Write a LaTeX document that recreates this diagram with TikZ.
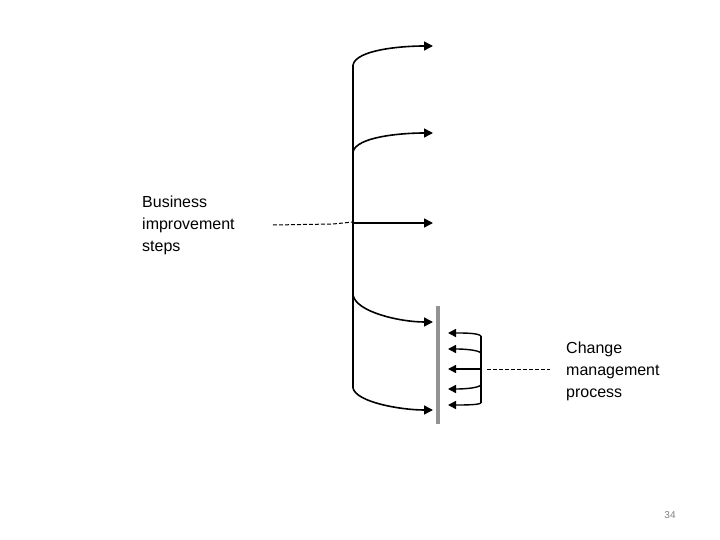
\documentclass[tikz,border=0pt]{standalone}
\usepackage{fontspec}
\setmainfont{Liberation Sans}
\usetikzlibrary{arrows.meta}
\begin{document}
\begin{tikzpicture}[x=1pt,y=-1pt,
  arr/.style={line width=1.6pt,-{Triangle[length=9pt,width=9pt]}},
  sarr/.style={line width=1.4pt,-{Triangle[length=8pt,width=8pt]}},
  dashln/.style={line width=1pt,dash pattern=on 4pt off 2pt},
  lbl/.style={align=left,anchor=north west,inner sep=0pt,font=\fontsize{16}{22}\selectfont}]
\useasboundingbox (0,0) rectangle (720,540);
\coordinate (t1) at (353,65); \coordinate (t2) at (353,152);
\coordinate (t3) at (353,223); \coordinate (t4) at (353,295);
\coordinate (t5) at (353,388);
\coordinate (h1) at (433,46); \coordinate (h2) at (433,133);
\coordinate (h3) at (433,223); \coordinate (h4) at (433,322);
\coordinate (h5) at (433,410);
\draw[line width=1.6pt] (t1) -- (t5);
\draw[arr] (t1) .. controls (356,50) and (400,46) .. (h1);
\draw[arr] (t2) .. controls (356,137) and (400,133) .. (h2);
\draw[arr] (t3) -- (h3);
\draw[arr] (t4) .. controls (356,312) and (400,322) .. (h4);
\draw[arr] (t5) .. controls (356,402) and (400,410) .. (h5);
\fill[gray!85] (436,306) rectangle (440,424);
\coordinate (r1) at (481,336); \coordinate (r5) at (481,403);
\draw[line width=1.4pt] (r1) -- (r5);
\coordinate (a1) at (448,333); \coordinate (a2) at (448,349);
\coordinate (a3) at (448,369); \coordinate (a4) at (448,389);
\coordinate (a5) at (448,405);
\draw[sarr] (r1) .. controls (478,333) and (465,333) .. (a1);
\draw[sarr] (481,353) .. controls (478,350) and (465,349) .. (a2);
\draw[sarr] (481,369) -- (a3);
\draw[sarr] (481,385) .. controls (478,388) and (465,389) .. (a4);
\draw[sarr] (r5) .. controls (478,405) and (465,405) .. (a5);
\node[lbl] (bis) at (142,196) {Business\\improvement\\steps};
\node[lbl] (cmp) at (566,342) {Change\\management\\process};
\draw[dashln] (273,225) -- (333,224) -- (353,222);
\draw[dashln] (487,369) -- (550,369);
\node[font=\fontsize{10}{12}\selectfont,text=gray] (pg) at (670,515) {34};
\end{tikzpicture}
\end{document}
